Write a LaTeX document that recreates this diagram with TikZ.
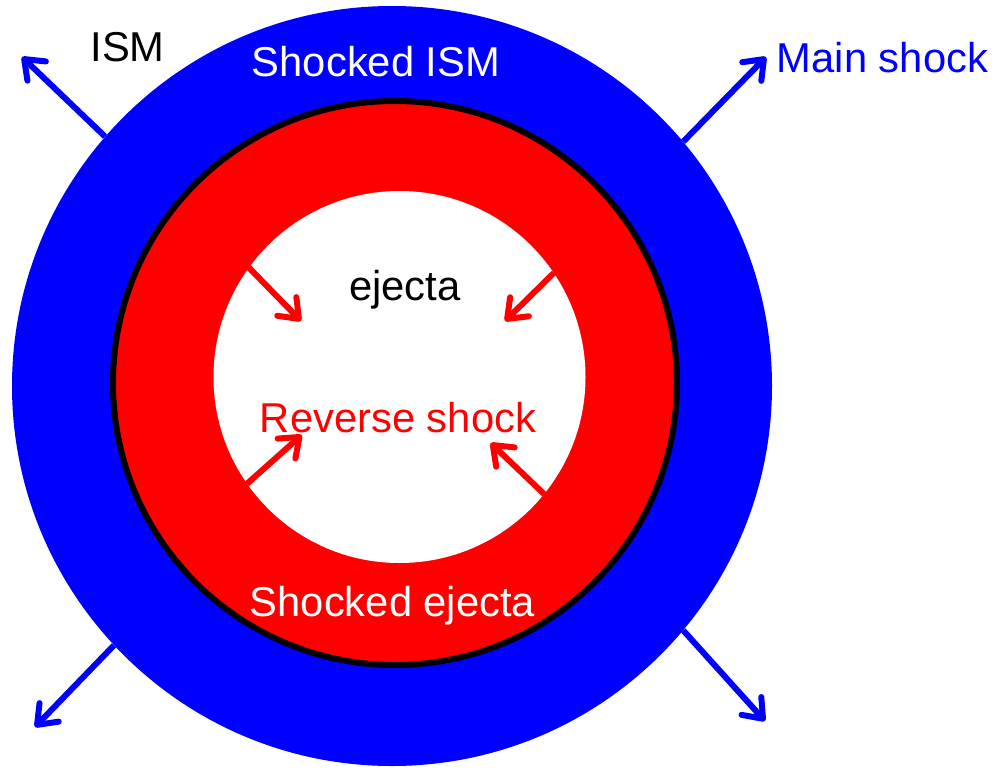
\documentclass[tikz,border=0pt]{standalone}
\usepackage{fontspec}
\setmainfont{Liberation Sans}
\usetikzlibrary{arrows.meta}

\definecolor{shockblue}{RGB}{0,0,255}
\definecolor{shockred}{RGB}{255,0,0}

\tikzset{
  label text/.style={font=\fontsize{31.3pt}{36pt}\selectfont, anchor=base, inner sep=0pt},
  disc/.style={circle, inner sep=0pt},
  shockarrow/.style={line width=4.5pt,
    -{Straight Barb[round, length=13pt, width=20pt]}},
}

\begin{document}
\begin{tikzpicture}[x=0.75pt, y=-0.75pt]
  \useasboundingbox (0,0) rectangle (995,767);

  % shells: swept-up interstellar medium, shocked ejecta, unshocked ejecta
  \node[disc, fill=shockblue, minimum size=570pt] (ism) at (392,386) {};
  \node[disc, fill=shockred, draw=black, line width=4.5pt, minimum size=423pt] (shej) at (395,383) {};
  \node[disc, fill=white, minimum size=279pt] (ej) at (399.5,377) {};

  % forward (main) shock moving outwards
  \coordinate (m1) at (22,57);
  \coordinate (m2) at (766,57);
  \coordinate (m3) at (35,727);
  \coordinate (m4) at (765,721);
  \draw[shockarrow, shockblue] (ism.139.3) -- (m1);
  \draw[shockarrow, shockblue] (ism.40.3) -- (m2);
  \draw[shockarrow, shockblue] (ism.223.3) -- (m3);
  \draw[shockarrow, shockblue] (ism.-40.9) -- (m4);

  % reverse shock moving inwards
  \coordinate (r1) at (301,321);
  \coordinate (r2) at (505,321);
  \coordinate (r3) at (301.7,435);
  \coordinate (r4) at (490.7,443);
  \draw[shockarrow, shockred] (ej.144.2) -- (r1);
  \draw[shockarrow, shockred] (ej.34.2) -- (r2);
  \draw[shockarrow, shockred] (ej.215.8) -- (r3);
  \draw[shockarrow, shockred] (ej.-39.2) -- (r4);

  % labels
  \node[label text, text=black] (tism) at (127.5,62) {ISM};
  \node[label text, text=white] (tshism) at (376,76) {Shocked ISM};
  \node[label text, text=shockblue] (tmain) at (882.5,73) {Main shock};
  \node[label text, text=black] (tej) at (405,300) {ejecta};
  \node[label text, text=shockred] (trev) at (398,432) {Reverse shock};
  \node[label text, text=white] (tshej) at (392.5,616) {Shocked ejecta};
\end{tikzpicture}
\end{document}
